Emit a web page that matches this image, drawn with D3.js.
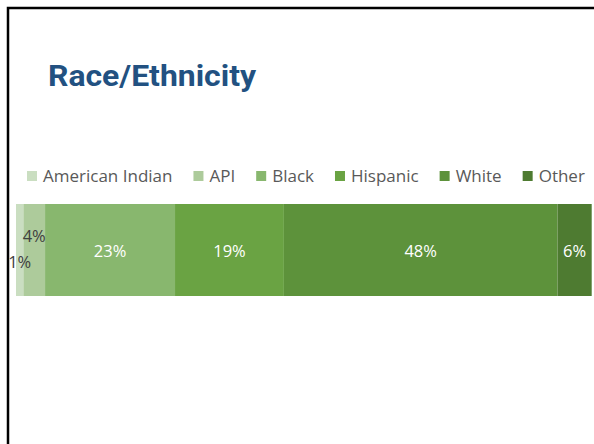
<!DOCTYPE html>
<html><head><meta charset="utf-8">
<script src="https://cdn.jsdelivr.net/npm/d3@7"></script>
<style>html,body{margin:0;padding:0;background:#fff;overflow:hidden}</style>
</head><body>
<svg id="c" width="594" height="444"></svg>
<script>
const categories = ["American Indian", "API", "Black", "Hispanic", "White", "Other"];
const values = [1.3, 3.8, 22.8, 19.1, 48.0, 6.0];
const labels = ["1%", "4%", "23%", "19%", "48%", "6%"];
const colors = ["#CADEC1", "#ADCB9B", "#88B76E", "#6AA343", "#5D923B", "#4E7B31"];
const title = "Race/Ethnicity";

const svg = d3.select("#c");
// slide frame
svg.append("rect").attr("x", 8).attr("y", 8).attr("width", 700).attr("height", 600)
  .attr("fill", "#fff").attr("stroke", "#000").attr("stroke-width", 2.5);

svg.append("text").attr("x", 48).attr("y", 86).text(title)
  .attr("font-family", "Roboto, sans-serif").attr("font-weight", 700)
  .attr("font-size", 30).attr("fill", "#225181")
  .attr("textLength", 208).attr("lengthAdjust", "spacingAndGlyphs");

const x = d3.scaleLinear().domain([0, 100]).range([16, 586]);
const y = d3.scaleBand().domain(["all"]).range([204, 296]).padding(0);

let cum = 0;
const segs = values.map((v, i) => { const s = {cat: categories[i], v, x0: cum, x1: cum + v, label: labels[i], color: colors[i], i}; cum += v; return s; });

svg.selectAll("rect.seg").data(segs).enter().append("rect").attr("class", "seg")
  .attr("x", d => x(d.x0)).attr("y", y("all"))
  .attr("width", d => x(d.x1) - x(d.x0)).attr("height", y.bandwidth())
  .attr("fill", d => d.color);

const cy = y("all") + y.bandwidth() / 2;
svg.selectAll("text.lab").data(segs).enter().append("text").attr("class", "lab")
  .attr("x", d => x((d.x0 + d.x1) / 2))
  .attr("y", d => d.i === 0 ? cy + 18 : d.i === 1 ? cy - 8 : cy + 7)
  .attr("text-anchor", "middle")
  .attr("font-family", "'Open Sans', sans-serif").attr("font-size", 16.5)
  .attr("fill", d => d.i < 2 ? "#404040" : "#fff")
  .text(d => d.label);

// legend
const lg = svg.append("g");
let lx = 27;
categories.forEach((c, i) => {
  lg.append("rect").attr("x", lx).attr("y", 171).attr("width", 10).attr("height", 10).attr("fill", colors[i]);
  const t = lg.append("text").attr("x", lx + 16).attr("y", 182)
    .attr("font-family", "'Open Sans', sans-serif").attr("font-size", 17).attr("fill", "#595959").text(c);
  lx += 16 + t.node().getComputedTextLength() + 21;
});
</script>
</body></html>
